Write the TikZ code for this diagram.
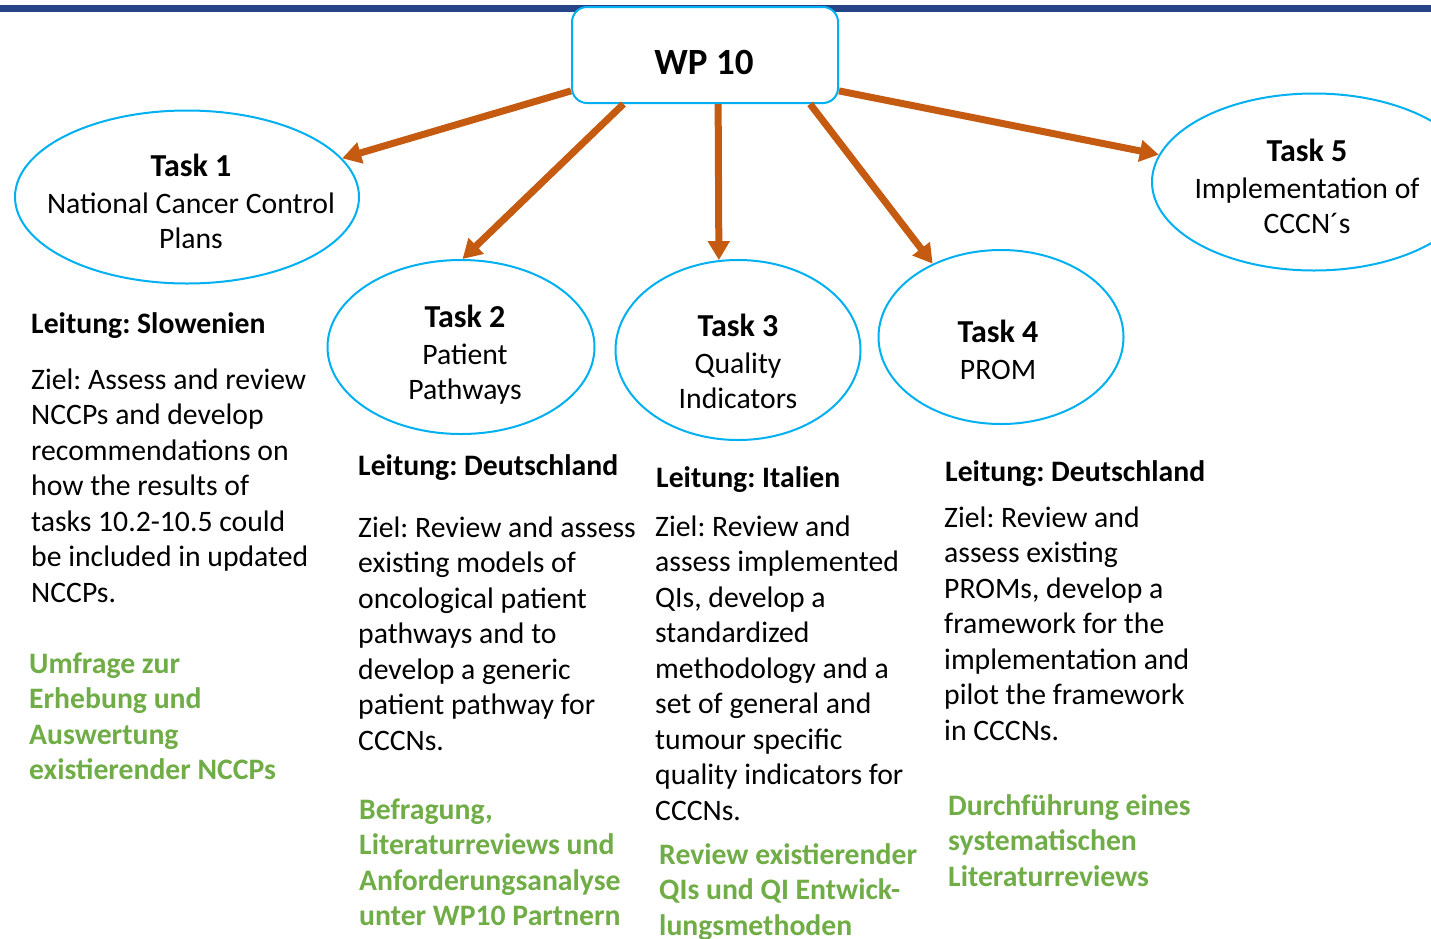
\documentclass[tikz,border=0pt]{standalone}
\usepackage{fontspec}
\setmainfont{Carlito}
\frenchspacing
\usetikzlibrary{arrows.meta,shapes.geometric}
\definecolor{navy}{HTML}{264487}
\definecolor{cyanb}{HTML}{00B0F0}
\definecolor{orng}{HTML}{C55A11}
\definecolor{grn}{HTML}{70AD47}
\newcommand\ltab[1]{\begin{tabular}[t]{@{}l@{}}#1\end{tabular}}
\newcommand\ctab[1]{\begin{tabular}[t]{@{}c@{}}#1\end{tabular}}
\tikzset{
  ell/.style={draw=cyanb, line width=2pt, ellipse, inner sep=0pt, fill=white},
  wpbox/.style={draw=cyanb, line width=2pt, rectangle, rounded corners=15pt, fill=white, inner sep=0pt},
  arr/.style={draw=orng, line width=7pt, -{Triangle[width=21pt,length=19pt]}},
  txt/.style={anchor=base west, inner sep=0pt, font=\fontsize{29.7}{35.5}\selectfont\frenchspacing},
  btxt/.style={txt, font=\fontsize{29.7}{35.5}\selectfont\frenchspacing\bfseries},
  gtxt/.style={btxt, text=grn},
  etxt/.style={anchor=base, inner sep=0pt, font=\fontsize{29.7}{35.5}\selectfont\frenchspacing},
}
\begin{document}
\begin{tikzpicture}[x=1pt, y=-1pt]
\useasboundingbox (0,0) rectangle (1431,938);
\clip (0,0) rectangle (1431,938);
\fill[white] (0,0) rectangle (1431,938);
% top bar
\fill[navy] (0,5) rectangle (1431,12);

% ellipses
\node[ell, minimum width=344pt, minimum height=173pt] (t1) at (187,197) {};
\node[ell, minimum width=267pt, minimum height=174pt] (t2) at (461,347) {};
\node[ell, minimum width=245pt, minimum height=180pt] (t3) at (738,350) {};
\node[ell, minimum width=245pt, minimum height=174pt] (t4) at (1001,337) {};
\node[ell, minimum width=324pt, minimum height=177pt] (t5) at (1314,182) {};

% WP box
\node[wpbox, minimum width=266pt, minimum height=96pt] (wp) at (705,55) {};
\node[anchor=base, inner sep=0pt, font=\fontsize{37}{44}\selectfont\bfseries] (wptxt) at (704,74) {WP 10};

% arrows
\draw[arr] (wp.195) -- (t1.14);
\draw[arr] (wp.211) -- (t2.89);
\draw[arr] (wp.285) -- (t3.102);
\draw[arr] (wp.335) -- (t4.133);
\draw[arr] (wp.345) -- (t5.170);

% ellipse texts
\node[etxt] (t1x) at (191,176) {\ctab{{\fontsize{32}{37}\selectfont\bfseries Task 1}\\[1.5pt] National Cancer Control\\ Plans}};
\node[etxt] (t2x) at (465,327) {\ctab{{\fontsize{32}{37}\selectfont\bfseries Task 2}\\[1.5pt] Patient\\ Pathways}};
\node[etxt] (t3x) at (738,336) {\ctab{{\fontsize{32}{37}\selectfont\bfseries Task 3}\\[1.5pt] Quality\\ Indicators}};
\node[etxt] (t4x) at (998,342) {\ctab{{\fontsize{32}{37}\selectfont\bfseries Task 4}\\[1.5pt] PROM}};
\node[etxt] (t5x) at (1307,161) {\ctab{{\fontsize{32}{37}\selectfont\bfseries Task 5}\\[1.5pt] Implementation of\\ CCCN´s}};

% column 1
\node[btxt] (l1) at (31,333) {\ltab{Leitung: Slowenien}};
\node[txt] (z1) at (31,389) {\ltab{Ziel: Assess and review\\ NCCPs and develop\\ recommendations on\\ how the results of\\ tasks 10.2-10.5 could\\ be included in updated\\ NCCPs.}};
\node[gtxt] (g1) at (29,673) {\ltab{Umfrage zur\\ Erhebung und\\ Auswertung\\ existierender NCCPs}};

% column 2
\node[btxt] (l2) at (358,475) {\ltab{Leitung: Deutschland}};
\node[txt] (z2) at (358,537) {\ltab{Ziel: Review and assess\\ existing models of\\ oncological patient\\ pathways and to\\ develop a generic\\ patient pathway for\\ CCCNs.}};
\node[gtxt] (g2) at (359,819) {\ltab{Befragung,\\ Literaturreviews und\\ Anforderungsanalyse\\ unter WP10 Partnern}};

% column 3
\node[btxt] (l3) at (656,487) {\ltab{Leitung: Italien}};
\node[txt] (z3) at (655,536) {\ltab{Ziel: Review and\\ assess implemented\\ QIs, develop a\\ standardized\\ methodology and a\\ set of general and\\ tumour specific\\ quality indicators for\\ CCCNs.}};
\node[gtxt] (g3) at (659,864) {\ltab{Review existierender\\ QIs und QI Entwick-\\ lungsmethoden}};

% column 4
\node[btxt] (l4) at (945,481) {\ltab{Leitung: Deutschland}};
\node[txt] (z4) at (944,527) {\ltab{Ziel: Review and\\ assess existing\\ PROMs, develop a\\ framework for the\\ implementation and\\ pilot the framework\\ in CCCNs.}};
\node[gtxt] (g4) at (948,815) {\ltab{Durchführung eines\\ systematischen\\ Literaturreviews}};
\end{tikzpicture}
\end{document}
